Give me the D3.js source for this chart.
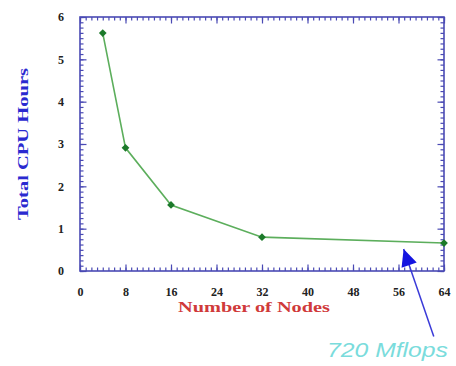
<!DOCTYPE html>
<html>
<head>
<meta charset="utf-8">
<script src="https://cdn.jsdelivr.net/npm/d3@7"></script>
<style>
  html, body { margin: 0; padding: 0; background: #fff; }
  svg { display: block; }
</style>
</head>
<body>
<svg id="chart" width="456" height="366"></svg>
<script>
// ---- data ----
const nodes = [4, 8, 16, 32, 64];
const cpuHours = [5.62, 2.91, 1.56, 0.80, 0.66];
const xTickLabels = [0, 8, 16, 24, 32, 40, 48, 56, 64];
const yTickLabels = [0, 1, 2, 3, 4, 5, 6];
const xTitle = "Number of Nodes";
const yTitle = "Total CPU Hours";
const annotation = "720 Mflops";
// annotation arrow: [tail, tip] in data units
const arrowTail = [62.2, -1.55];
const arrowTip = [56.9, 0.52];

// ---- layout ----
const svg = d3.select("#chart");
const x = d3.scaleLinear().domain([0, 64]).range([80, 444]);
const y = d3.scaleLinear().domain([0, 6]).range([271, 17]);
const frameColor = "#4a4ab4";

svg.append("rect").attr("width", 456).attr("height", 366).attr("fill", "#fff");

function styleAxis(g) {
  g.select(".domain").remove();
  g.selectAll(".tick line").attr("stroke", frameColor).attr("stroke-width", 1.2);
}

const xMinor = d3.range(0, 65, 1);
const yMinor = d3.range(0, 6.001, 0.125);

// bottom
svg.append("g").attr("transform", `translate(0,${y(0)})`)
  .call(d3.axisBottom(x).tickValues(xMinor).tickSize(-3.5).tickFormat("")).call(styleAxis);
svg.append("g").attr("transform", `translate(0,${y(0)})`)
  .call(d3.axisBottom(x).tickValues(xTickLabels).tickSize(-6.5).tickFormat("")).call(styleAxis);
// top
svg.append("g").attr("transform", `translate(0,${y(6)})`)
  .call(d3.axisTop(x).tickValues(xMinor).tickSize(-3.5).tickFormat("")).call(styleAxis);
svg.append("g").attr("transform", `translate(0,${y(6)})`)
  .call(d3.axisTop(x).tickValues(xTickLabels).tickSize(-6.5).tickFormat("")).call(styleAxis);
// left
svg.append("g").attr("transform", `translate(${x(0)},0)`)
  .call(d3.axisLeft(y).tickValues(yMinor).tickSize(-3.5).tickFormat("")).call(styleAxis);
svg.append("g").attr("transform", `translate(${x(0)},0)`)
  .call(d3.axisLeft(y).tickValues(yTickLabels).tickSize(-6.5).tickFormat("")).call(styleAxis);
// right
svg.append("g").attr("transform", `translate(${x(64)},0)`)
  .call(d3.axisRight(y).tickValues(yMinor).tickSize(-3.5).tickFormat("")).call(styleAxis);
svg.append("g").attr("transform", `translate(${x(64)},0)`)
  .call(d3.axisRight(y).tickValues(yTickLabels).tickSize(-6.5).tickFormat("")).call(styleAxis);

// frame
svg.append("rect")
  .attr("x", x(0)).attr("y", y(6))
  .attr("width", x(64) - x(0)).attr("height", y(0) - y(6))
  .attr("fill", "none").attr("stroke", frameColor).attr("stroke-width", 1.6);

// tick labels
const labelFont = "'Liberation Serif', 'Times New Roman', serif";
const xl = svg.append("g").attr("transform", `translate(0,${y(0)})`)
  .call(d3.axisBottom(x).tickValues(xTickLabels).tickSize(0).tickPadding(16).tickFormat(d3.format("d")));
xl.select(".domain").remove();
xl.selectAll("text").attr("font-family", labelFont).attr("font-weight", "bold")
  .attr("font-size", 12).attr("fill", "#222");
const yl = svg.append("g").attr("transform", `translate(${x(0)},0)`)
  .call(d3.axisLeft(y).tickValues(yTickLabels).tickSize(0).tickPadding(16).tickFormat(d3.format("d")));
yl.select(".domain").remove();
yl.selectAll("text").attr("font-family", labelFont).attr("font-weight", "bold")
  .attr("font-size", 12).attr("fill", "#222");

// axis titles
svg.append("text")
  .attr("transform", "translate(28,144) rotate(-90)")
  .attr("text-anchor", "middle")
  .attr("font-family", labelFont).attr("font-weight", "bold").attr("font-size", 14)
  .attr("fill", "#2a2ad0")
  .attr("textLength", 152).attr("lengthAdjust", "spacingAndGlyphs")
  .text(yTitle);

svg.append("text")
  .attr("x", 254).attr("y", 312)
  .attr("text-anchor", "middle")
  .attr("font-family", labelFont).attr("font-weight", "bold").attr("font-size", 14)
  .attr("fill", "#d03a3a")
  .attr("textLength", 152).attr("lengthAdjust", "spacingAndGlyphs")
  .text(xTitle);

// line + markers
const pts = nodes.map((n, i) => [n, cpuHours[i]]);
svg.append("path")
  .datum(pts)
  .attr("fill", "none").attr("stroke", "#5cae5c").attr("stroke-width", 1.6)
  .attr("d", d3.line().x(d => x(d[0])).y(d => y(d[1])));
svg.selectAll(".mk").data(pts).enter().append("path")
  .attr("class", "mk")
  .attr("transform", d => `translate(${x(d[0])},${y(d[1])}) rotate(45)`)
  .attr("d", d3.symbol(d3.symbolSquare, 30))
  .attr("fill", "#1c7a2a");

// annotation arrow
const tx = x(arrowTail[0]), ty = y(arrowTail[1]);
const hx = x(arrowTip[0]), hy = y(arrowTip[1]);
svg.append("line")
  .attr("x1", tx).attr("y1", ty).attr("x2", hx).attr("y2", hy)
  .attr("stroke", "#3a3ad8").attr("stroke-width", 1.5);
const ang = Math.atan2(hy - ty, hx - tx);
const L = 17, W = 8;
const bx = hx - L * Math.cos(ang), by = hy - L * Math.sin(ang);
const px = -Math.sin(ang) * W, py = Math.cos(ang) * W;
svg.append("path")
  .attr("d", `M${hx},${hy}L${bx + px},${by + py}L${bx - px},${by - py}Z`)
  .attr("fill", "#1414e0");

svg.append("text")
  .attr("x", 327).attr("y", 357)
  .attr("font-family", "'Liberation Sans', Arial, sans-serif")
  .attr("font-style", "italic").attr("font-size", 20)
  .attr("fill", "#7adcdc")
  .attr("textLength", 121).attr("lengthAdjust", "spacingAndGlyphs")
  .text(annotation);
</script>
</body>
</html>
